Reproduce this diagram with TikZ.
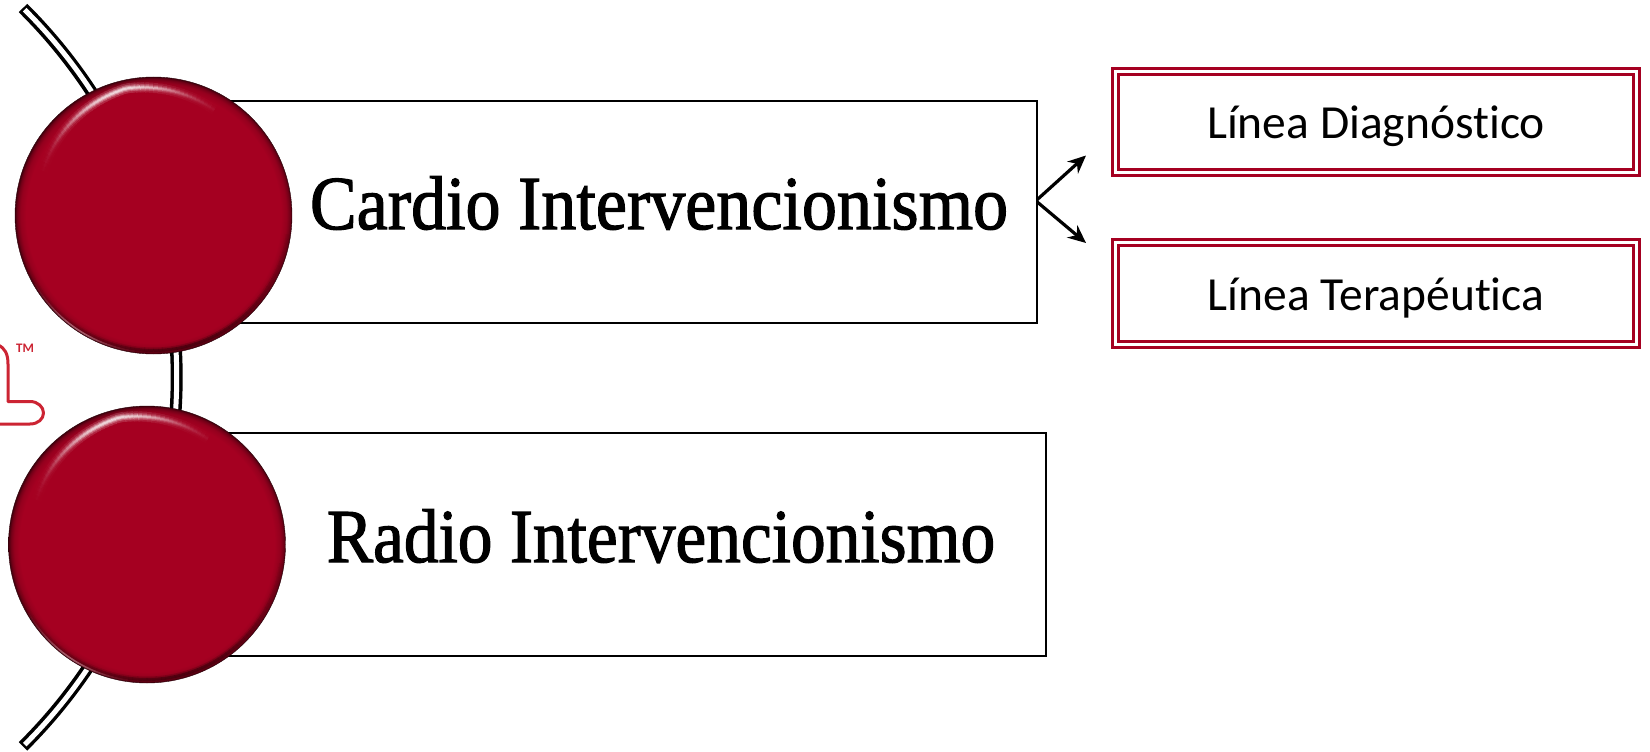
\documentclass[tikz,border=0pt]{standalone}
\usepackage{graphicx}
\usepackage{fontspec}
\setmainfont[Ligatures=NoCommon]{Carlito}
\newfontfamily\headfont[FakeBold=1.6]{Liberation Serif}
\usetikzlibrary{arrows.meta,calc}
\definecolor{brandred}{HTML}{A50021}
\definecolor{logored}{HTML}{CC2433}
\definecolor{rimpink}{HTML}{F4C6D0}
\pgfdeclareradialshading{bevel}{\pgfpoint{0bp}{0bp}}{%
 color(0bp)=(brandred); color(23bp)=(brandred); color(24bp)=(brandred!90!black);
 color(24.6bp)=(brandred!70!black); color(25bp)=(brandred!40!black); color(50bp)=(black)}
\tikzset{
  x=1pt,y=-1pt,
  disc/.style={circle,minimum size=277pt,inner sep=0pt,outer sep=0pt,shading=bevel,draw=black!75!brandred,line width=.4pt},
  bar/.style={rectangle,draw=black,line width=2.5pt,fill=white,inner sep=0pt,outer sep=0pt,anchor=north west},
  head/.style={inner sep=0pt,outer sep=0pt,font=\headfont},
  redbox/.style={rectangle,draw=brandred,line width=2.9pt,double=white,double distance=2.9pt,inner sep=0pt,outer sep=0pt,minimum width=521.3pt},
  sub/.style={inner sep=0pt,font=\fontsize{47.5pt}{52pt}\selectfont,text=black},
  fork/.style={line width=3.2pt,draw=black,-{Stealth[length=18pt,width=16pt]}},
  spineout/.style={line width=12pt,draw=black},
  spinein/.style={line width=5pt,draw=white,shorten >=2.4pt,shorten <=2.4pt},
}
% soft crescent highlight and lower shadow, built from short arc pieces
\newcommand{\hilite}[1]{%
  \foreach \a in {60,62,...,156}{
    \pgfmathsetmacro{\rr}{130-8*abs(\a-101)/41}
    \pgfmathsetmacro{\oo}{exp(-((\a-105)/26)^2)}
    \pgfmathsetmacro{\aend}{\a+2}
    \foreach \w/\f in {10/.16,6.5/.26,4/.40,2/.55}{
      \pgfmathsetmacro{\op}{\f*\oo}
      \draw[white,line width=\w pt,opacity=\op] ($(#1)+(\a:\rr pt)$) arc[start angle=\a,end angle=\aend,radius=\rr pt];
    }
  }
  \foreach \a in {-160,-158,...,-10}{
    \pgfmathsetmacro{\oo}{exp(-((\a+75)/45)^2)}
    \pgfmathsetmacro{\aend}{\a+2}
    \foreach \w/\f in {6/.16,3/.30}{
      \pgfmathsetmacro{\op}{\f*\oo}
      \draw[black,line width=\w pt,opacity=\op] ($(#1)+(\a:135pt)$) arc[start angle=\a,end angle=\aend,radius=135pt];
    }
  }
  \foreach \a in {-150,-148,...,-100}{
    \pgfmathsetmacro{\oo}{.45*exp(-((\a+125)/16)^2)}
    \pgfmathsetmacro{\aend}{\a+2}
    \draw[rimpink,line width=1.6pt,opacity=\oo] ($(#1)+(\a:137pt)$) arc[start angle=\a,end angle=\aend,radius=137pt];
  }
}
\begin{document}
\begin{tikzpicture}
\useasboundingbox (0,0) rectangle (1650,752);
\fill[white] (0,0) rectangle (1650,752);

% logo fragment
\draw[logored,line width=3pt,line cap=round,line join=round]
  (-2,345) .. controls (5,348) and (8,354) .. (8,364) -- (8,401.5) -- (30,401.5)
  .. controls (38,401.5) and (43.5,407) .. (43.5,413) .. controls (43.5,419) and (38,424) .. (30,424) -- (-2,424);
\node[inner sep=0pt,text=logored,font=\bfseries\fontsize{13pt}{13pt}\selectfont] (tm) at (25,348) {TM};

% spine
\coordinate (spinetop) at (23,8);
\draw[spineout] (spinetop) arc[start angle=45.2,end angle=-45.2,radius=520.3pt];
\draw[spinein] (spinetop) arc[start angle=45.2,end angle=-45.2,radius=520.3pt];

% bars
\node[bar,minimum width=884pt,minimum height=222pt] (bar1) at (153,100.8) {};
\node[bar,minimum width=893pt,minimum height=223pt] (bar2) at (153,433) {};

% discs
\node[disc] (disc1) at (153.5,215.5) {};
\node[disc] (disc2) at (147,544.5) {};
\hilite{disc1}
\hilite{disc2}

% headings
\node[head] (t1) at (659,203) {\resizebox{698pt}{53pt}{Cardio Intervencionismo}};
\node[head] (t2) at (661,536) {\resizebox{668pt}{53pt}{Radio Intervencionismo}};

% right boxes
\node[redbox,minimum height=100.9pt] (lineD) at (1376,122.2) {};
\node[redbox,minimum height=101.9pt] (lineT) at (1376,293.7) {};
\node[sub,anchor=base] (tD) at (1376,138) {Línea Diagnóstico};
\node[sub,anchor=base] (tT) at (1376,310) {Línea Terapéutica};

% arrows
\coordinate (forkA) at ($(bar1.east)+(0,-12)$);
\coordinate (forkB) at ($(bar1.east)+(0,-10)$);
\coordinate (endD) at (1086,155.5);
\coordinate (endT) at (1086,243);
\draw[fork] (forkA) -- (endD);
\draw[fork] (forkB) -- (endT);
\end{tikzpicture}
\end{document}
